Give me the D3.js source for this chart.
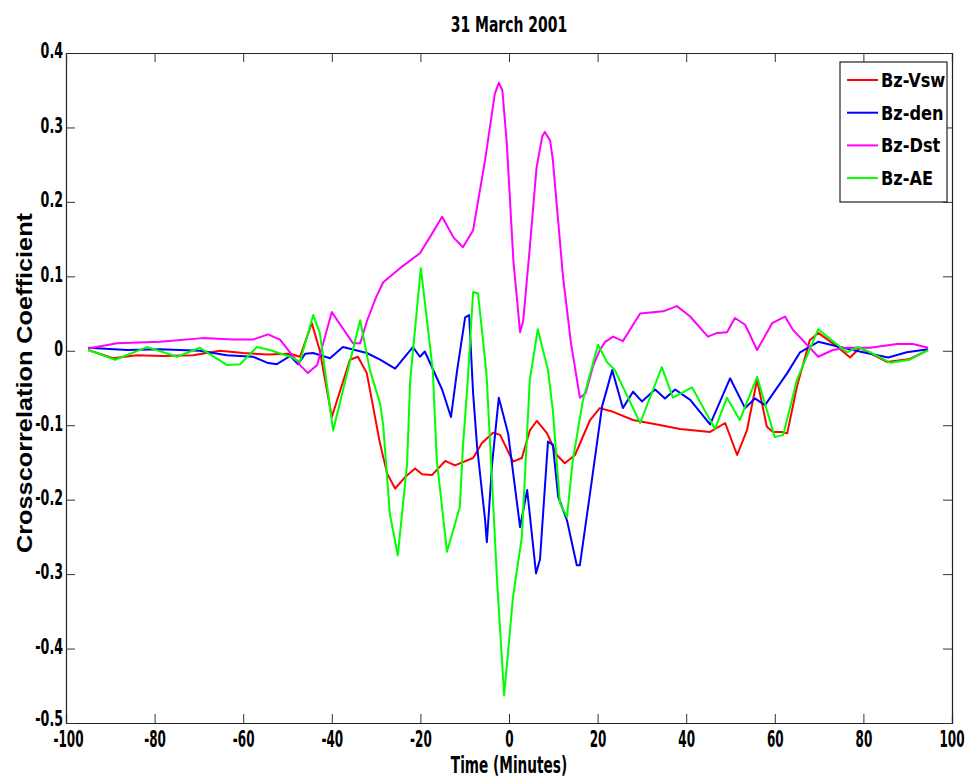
<!DOCTYPE html>
<html>
<head>
<meta charset="utf-8">
<script src="https://cdn.jsdelivr.net/npm/d3@7"></script>
<style>
  body { margin: 0; background: #fff; }
  svg { display: block; }
  .tick text, .lbl { font-family: "Liberation Sans Narrow", "DejaVu Sans Condensed", sans-serif; font-weight: bold; fill: #000; }
</style>
</head>
<body>
<div id="chart"></div>
<script>
// data: [lag in minutes, coefficient]
const bzVsw = [[-95,0.001],[-89.4,-0.010],[-84,-0.006],[-78,-0.007],[-71.3,-0.006],[-65.2,0.000],[-60,-0.003],[-54.6,-0.005],[-49.4,-0.004],[-47.2,-0.008],[-44.5,0.037],[-42.7,0.0],[-40,-0.089],[-35.9,-0.012],[-34.1,-0.008],[-32.1,-0.030],[-29.1,-0.125],[-27.5,-0.165],[-25.7,-0.185],[-23.5,-0.170],[-21.2,-0.158],[-19.6,-0.166],[-17.4,-0.167],[-14.4,-0.148],[-12.2,-0.154],[-8.1,-0.144],[-6.1,-0.124],[-3.6,-0.110],[-2.0,-0.113],[0.9,-0.149],[2.9,-0.144],[4.7,-0.107],[6.3,-0.094],[8.6,-0.111],[10.8,-0.140],[12.6,-0.151],[14.9,-0.140],[18.3,-0.093],[20.5,-0.077],[23.5,-0.082],[28,-0.093],[33.4,-0.099],[38.6,-0.105],[45.4,-0.109],[48.8,-0.097],[51.5,-0.140],[53.7,-0.107],[56,-0.039],[58.2,-0.102],[59.6,-0.109],[61.6,-0.109],[62.8,-0.111],[65,-0.048],[67.9,0.014],[69.8,0.024],[73.6,0.008],[77,-0.009],[79.2,0.004],[85.3,-0.015],[90.5,-0.011],[94.6,0.001]];
const bzDen = [[-95,0.004],[-86.2,0.001],[-78.8,0.002],[-69.8,0.0],[-63.7,-0.006],[-57.8,-0.008],[-54.6,-0.016],[-52.4,-0.018],[-49.4,-0.007],[-47.6,-0.018],[-46,-0.004],[-44.2,-0.003],[-40.4,-0.010],[-37.5,0.005],[-34.1,0.0],[-32.1,-0.003],[-29.1,-0.012],[-25.7,-0.024],[-21.7,0.005],[-20.1,-0.008],[-19,-0.001],[-15.1,-0.052],[-13.1,-0.089],[-11.7,-0.026],[-9.9,0.045],[-9.0,0.048],[-8.1,-0.057],[-7.2,-0.129],[-5.4,-0.227],[-5.0,-0.257],[-3.8,-0.151],[-2.3,-0.063],[-0.2,-0.111],[2.5,-0.237],[4.1,-0.187],[6.1,-0.299],[7.0,-0.280],[8.8,-0.122],[9.9,-0.126],[11.1,-0.196],[13.1,-0.228],[15.3,-0.288],[16.0,-0.288],[18.7,-0.174],[21.0,-0.075],[23.3,-0.026],[25.7,-0.077],[28,-0.055],[30,-0.068],[33,-0.052],[35.2,-0.064],[37.5,-0.052],[40.9,-0.066],[45.4,-0.099],[49.9,-0.037],[53.3,-0.077],[55.5,-0.064],[57.8,-0.073],[62.8,-0.030],[65.7,-0.002],[69.8,0.012],[74.7,0.005],[79.9,-0.002],[85.6,-0.009],[89.8,-0.002],[94.6,0.002]];
const bzDst = [[-95,0.003],[-88.5,0.010],[-78.8,0.012],[-69.1,0.017],[-62.3,0.015],[-57.8,0.015],[-54.4,0.022],[-51.7,0.015],[-47.2,-0.019],[-45.4,-0.030],[-43.3,-0.019],[-40,0.052],[-37.5,0.030],[-35.2,0.010],[-33.6,0.010],[-32,0.041],[-30,0.072],[-28.4,0.092],[-24.6,0.111],[-20.1,0.131],[-17.5,0.156],[-15.1,0.180],[-12.5,0.152],[-10.4,0.139],[-8.1,0.162],[-5.4,0.256],[-3.2,0.345],[-2.3,0.360],[-1.5,0.350],[-0.5,0.279],[1,0.12],[2.5,0.025],[3.2,0.04],[4.7,0.139],[6.2,0.245],[7.5,0.288],[8.1,0.294],[9.3,0.282],[9.9,0.256],[12.2,0.099],[14,0.01],[16,-0.063],[17.3,-0.057],[19,-0.020],[20.5,0.001],[21.7,0.012],[23.5,0.019],[25.7,0.013],[29.6,0.050],[34.8,0.053],[37.9,0.060],[40.9,0.046],[44.9,0.019],[47,0.024],[49.2,0.025],[51,0.044],[53.3,0.035],[56,0.001],[59.4,0.037],[62.3,0.046],[64.1,0.028],[69.8,-0.008],[73.1,0.001],[76.3,0.004],[81.5,0.004],[87.6,0.009],[91.2,0.009],[94.6,0.004]];
const bzAE = [[-95,0.001],[-88.9,-0.012],[-81.7,0.005],[-74.9,-0.008],[-69.8,0.004],[-63.7,-0.019],[-60.7,-0.018],[-56.9,0.005],[-54,0.001],[-49.4,-0.008],[-47.2,-0.015],[-44.2,0.048],[-42.7,0.024],[-39.7,-0.107],[-33.6,0.041],[-31.4,-0.026],[-29.1,-0.071],[-28.4,-0.100],[-26.9,-0.219],[-25.1,-0.275],[-23,-0.151],[-22.3,-0.039],[-19.9,0.111],[-17.2,-0.026],[-16.3,-0.147],[-14,-0.270],[-11.1,-0.210],[-10.4,-0.129],[-9.3,-0.039],[-8.1,0.079],[-7.0,0.077],[-5.4,-0.012],[-5.0,-0.039],[-2.7,-0.308],[-1.1,-0.463],[0.9,-0.331],[2.9,-0.250],[4.7,-0.039],[6.5,0.029],[8.8,-0.026],[9.9,-0.080],[11.5,-0.205],[13.1,-0.223],[14.4,-0.147],[16.7,-0.066],[20.1,0.008],[22.1,-0.015],[23.9,-0.026],[29.6,-0.097],[34.5,-0.022],[37,-0.063],[41.3,-0.049],[46.5,-0.105],[49.2,-0.063],[52.1,-0.093],[56,-0.035],[60,-0.116],[61.9,-0.113],[65,-0.039],[69.8,0.029],[73.1,0.013],[76.3,-0.002],[78.8,0.005],[81.9,-0.003],[86,-0.016],[90.5,-0.012],[94.6,0.001]];

const seriesNames = ["Bz-Vsw", "Bz-den", "Bz-Dst", "Bz-AE"];
const seriesColors = ["#ff0000", "#0000ff", "#ff00ff", "#00ff00"];
const xTicks = [-100, -80, -60, -40, -20, 0, 20, 40, 60, 80, 100];
const yTicks = [-0.5, -0.4, -0.3, -0.2, -0.1, 0, 0.1, 0.2, 0.3, 0.4];

const width = 966, height = 780;
const plot = {left: 66, right: 952, top: 53, bottom: 723};

const svg = d3.select("#chart").append("svg")
  .attr("width", width)
  .attr("height", height);

const x = d3.scaleLinear().domain([-100, 100]).range([plot.left, plot.right]);
const y = d3.scaleLinear().domain([-0.5, 0.4]).range([plot.bottom, plot.top]);

// squeeze text horizontally (the original lettering is very condensed)
// scales around the text's own x so the anchor stays put
function squeeze(sel, f) {
  sel.each(function() {
    const t = d3.select(this);
    const x0 = +t.attr("x") || 0;
    t.attr("x", x0 / f).attr("transform", `scale(${f},1)`);
  });
}

// axes, box style with inward ticks
const tl = 9;
const gx = svg.append("g").attr("transform", `translate(0,${plot.bottom})`)
  .call(d3.axisBottom(x).tickValues(xTicks).tickSize(-tl).tickPadding(8).tickFormat(d => String(d)));
const gy = svg.append("g").attr("transform", `translate(${plot.left},0)`)
  .call(d3.axisLeft(y).tickValues(yTicks).tickSize(-tl).tickPadding(3).tickFormat(d => d === 0 ? "0" : d.toFixed(1)));
const gt = svg.append("g").attr("transform", `translate(0,${plot.top})`)
  .call(d3.axisTop(x).tickValues(xTicks).tickSize(-tl).tickFormat(""));
const gr = svg.append("g").attr("transform", `translate(${plot.right},0)`)
  .call(d3.axisRight(y).tickValues(yTicks).tickSize(-tl).tickFormat(""));

[gx, gy, gt, gr].forEach(g => {
  g.select(".domain").attr("stroke", "#222").attr("stroke-width", 1.2);
  g.selectAll(".tick line").attr("stroke", "#333").attr("stroke-width", 1);
});
gx.selectAll(".tick text").style("font-size", "23px");
// last label sits against the right edge of the figure
gx.selectAll(".tick text").filter(d => d === 100).attr("text-anchor", "end").attr("x", 12);
gx.selectAll(".tick text").filter(d => d === -100).attr("x", 2);
gx.selectAll(".tick text").call(squeeze, 0.58);
gy.selectAll(".tick text").style("font-size", "22px").attr("dy", "0.22em").call(squeeze, 0.64);
gy.selectAll(".tick text").filter(d => d === -0.5).attr("dy", "0.1em");

// lines
const line = d3.line().x(d => x(d[0])).y(d => y(d[1]));
const allSeries = [bzVsw, bzDen, bzDst, bzAE];
svg.append("g").selectAll("path")
  .data(allSeries)
  .join("path")
  .attr("d", line)
  .attr("fill", "none")
  .attr("stroke", (d, i) => seriesColors[i])
  .attr("stroke-width", 2)
  .attr("stroke-linejoin", "round");

// title + labels
svg.append("g").attr("transform", `translate(${x(0)},32)`)
  .append("text").attr("class", "lbl")
  .attr("text-anchor", "middle")
  .style("font-size", "21px")
  .text("31 March 2001")
  .call(squeeze, 0.74);

svg.append("g").attr("transform", `translate(${x(0)},773)`)
  .append("text").attr("class", "lbl")
  .attr("text-anchor", "middle")
  .style("font-size", "23px")
  .text("Time (Minutes)")
  .call(squeeze, 0.66);

svg.append("text")
  .attr("transform", "translate(32,383) rotate(-90)")
  .attr("text-anchor", "middle")
  .style("font-family", "'Liberation Sans', Arial, sans-serif")
  .style("font-weight", "bold")
  .style("font-size", "22px")
  .text("Crosscorrelation Coefficient")
  .attr("textLength", 340)
  .attr("lengthAdjust", "spacingAndGlyphs");

// legend
const legend = svg.append("g").attr("transform", "translate(840,62)");
legend.append("rect")
  .attr("width", 107).attr("height", 140)
  .attr("fill", "#fff").attr("stroke", "#222").attr("stroke-width", 1.2);
const item = legend.selectAll("g.item")
  .data(seriesNames)
  .join("g")
  .attr("class", "item")
  .attr("transform", (d, i) => `translate(0,${18 + i * 32.7})`);
item.append("line")
  .attr("x1", 7).attr("x2", 38)
  .attr("stroke", (d, i) => seriesColors[i])
  .attr("stroke-width", 2);
item.append("text").attr("class", "lbl")
  .attr("x", 41).attr("y", 7)
  .style("font-size", "20px")
  .text(d => d)
  .call(squeeze, 0.9);
</script>
</body>
</html>
